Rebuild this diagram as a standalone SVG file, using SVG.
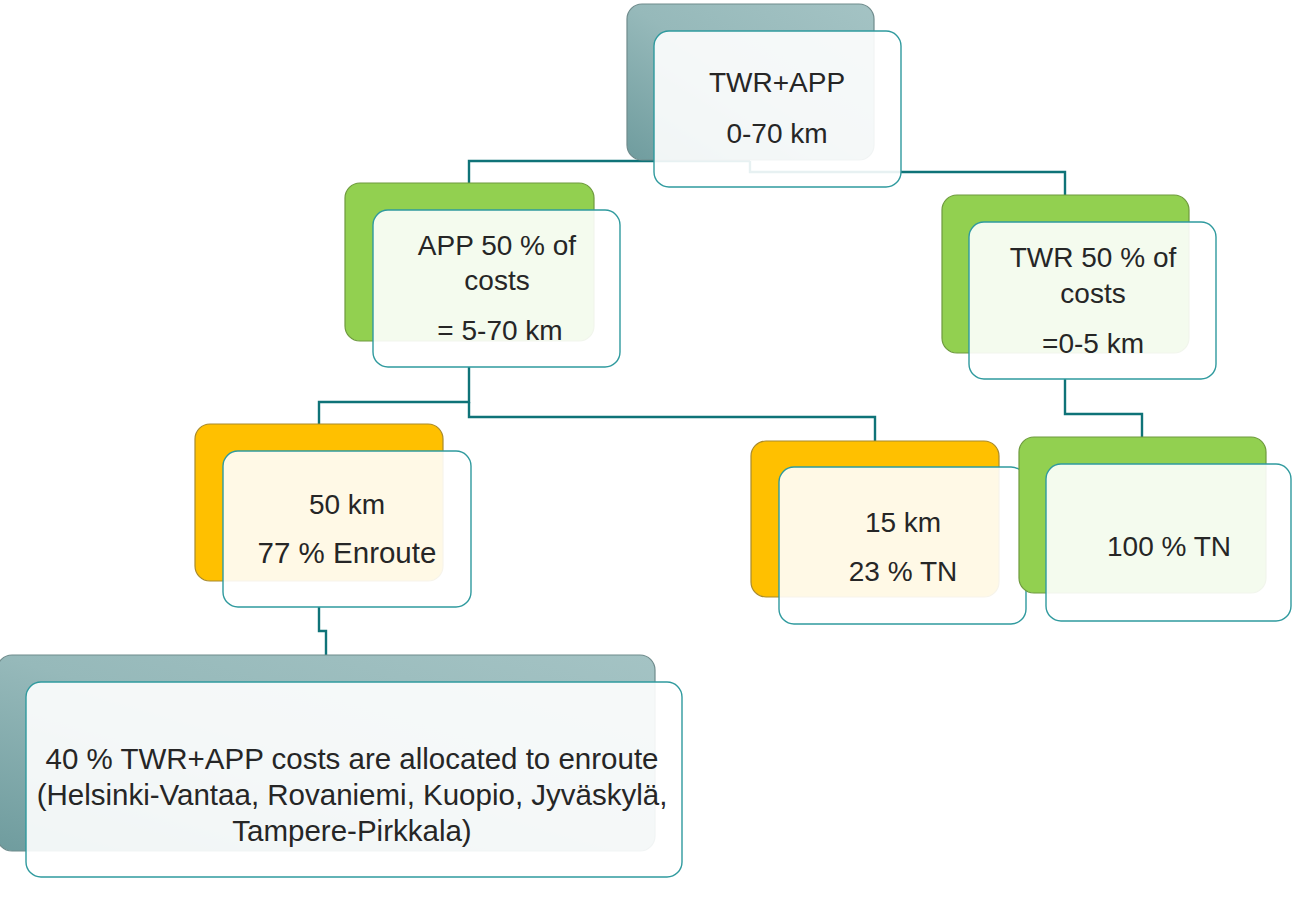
<svg xmlns="http://www.w3.org/2000/svg" width="1292" height="903" viewBox="0 0 1292 903">
<defs>
<linearGradient id="tealG" x1="0" y1="1" x2="1" y2="0">
<stop offset="0" stop-color="#6f9c9e"/>
<stop offset="0.5" stop-color="#96b9ba"/>
<stop offset="1" stop-color="#a4c3c4"/>
</linearGradient>
<style>
.conn{fill:none;stroke:#0f7378;stroke-width:2.4}
.back{stroke-width:1.2}
.teal{fill:url(#tealG);stroke:#6f8b8c}
.green{fill:#92d050;stroke:#6e9a3e}
.orange{fill:#ffc000;stroke:#a88a2c}
.front{fill:#ffffff;fill-opacity:0.9;stroke:#2f9a9e;stroke-width:1.4}
text{font-family:"Liberation Sans",Arial,sans-serif;font-size:28px;fill:#262626;text-anchor:middle}
.big{font-size:29.5px}
</style>
</defs>
<rect width="1292" height="903" fill="#ffffff"/>
<g id="connectors">
<polyline class="conn" points="750,161 469,161 469,183"/>
<polyline class="conn" points="750,161 750,172 1065,172 1065,195"/>
<polyline class="conn" points="469,367 469,402 319,402 319,424"/>
<polyline class="conn" points="469,402 469,417 875,417 875,441"/>
<polyline class="conn" points="1065,379 1065,414 1142,414 1142,437"/>
<polyline class="conn" points="319,607 319,631 326,631 326,655"/>
</g>
<g id="node-twr-app">
<rect class="back teal" x="627" y="4" width="247" height="156" rx="15"/>
<rect class="front" x="654" y="31" width="247" height="156" rx="15"/>
<text x="777" y="92">TWR+APP</text>
<text x="777" y="143">0-70 km</text>
</g>
<g id="node-app">
<rect class="back green" x="345" y="183" width="249" height="158" rx="15"/>
<rect class="front" x="373" y="210" width="247" height="157" rx="15"/>
<text x="497" y="255">APP 50 % of</text>
<text x="497" y="290">costs</text>
<text x="500" y="340">= 5-70 km</text>
</g>
<g id="node-twr">
<rect class="back green" x="942" y="195" width="247" height="158" rx="15"/>
<rect class="front" x="969" y="222" width="247" height="157" rx="15"/>
<text x="1093" y="267">TWR 50 % of</text>
<text x="1093" y="303">costs</text>
<text x="1093" y="353">=0-5 km</text>
</g>
<g id="node-50km">
<rect class="back orange" x="195" y="424" width="248" height="157" rx="15"/>
<rect class="front" x="223" y="451" width="248" height="156" rx="15"/>
<text x="347" y="514">50 km</text>
<text class="big" x="347" y="563">77 % Enroute</text>
</g>
<g id="node-15km">
<rect class="back orange" x="751" y="441" width="248" height="156" rx="15"/>
<rect class="front" x="779" y="467" width="247" height="157" rx="15"/>
<text x="903" y="532">15 km</text>
<text x="903" y="581">23 % TN</text>
</g>
<g id="node-100tn">
<rect class="back green" x="1019" y="437" width="247" height="156" rx="15"/>
<rect class="front" x="1046" y="464" width="245" height="157" rx="15"/>
<text x="1169" y="556">100 % TN</text>
</g>
<g id="node-enroute">
<rect class="back teal" x="-3" y="655" width="658" height="196" rx="15"/>
<rect class="front" x="26" y="682" width="656" height="195" rx="15"/>
<text class="big" x="352" y="769">40 % TWR+APP costs are allocated to enroute</text>
<text class="big" x="352" y="805">(Helsinki-Vantaa, Rovaniemi, Kuopio, Jyväskylä,</text>
<text class="big" x="352" y="841">Tampere-Pirkkala)</text>
</g>
</svg>
